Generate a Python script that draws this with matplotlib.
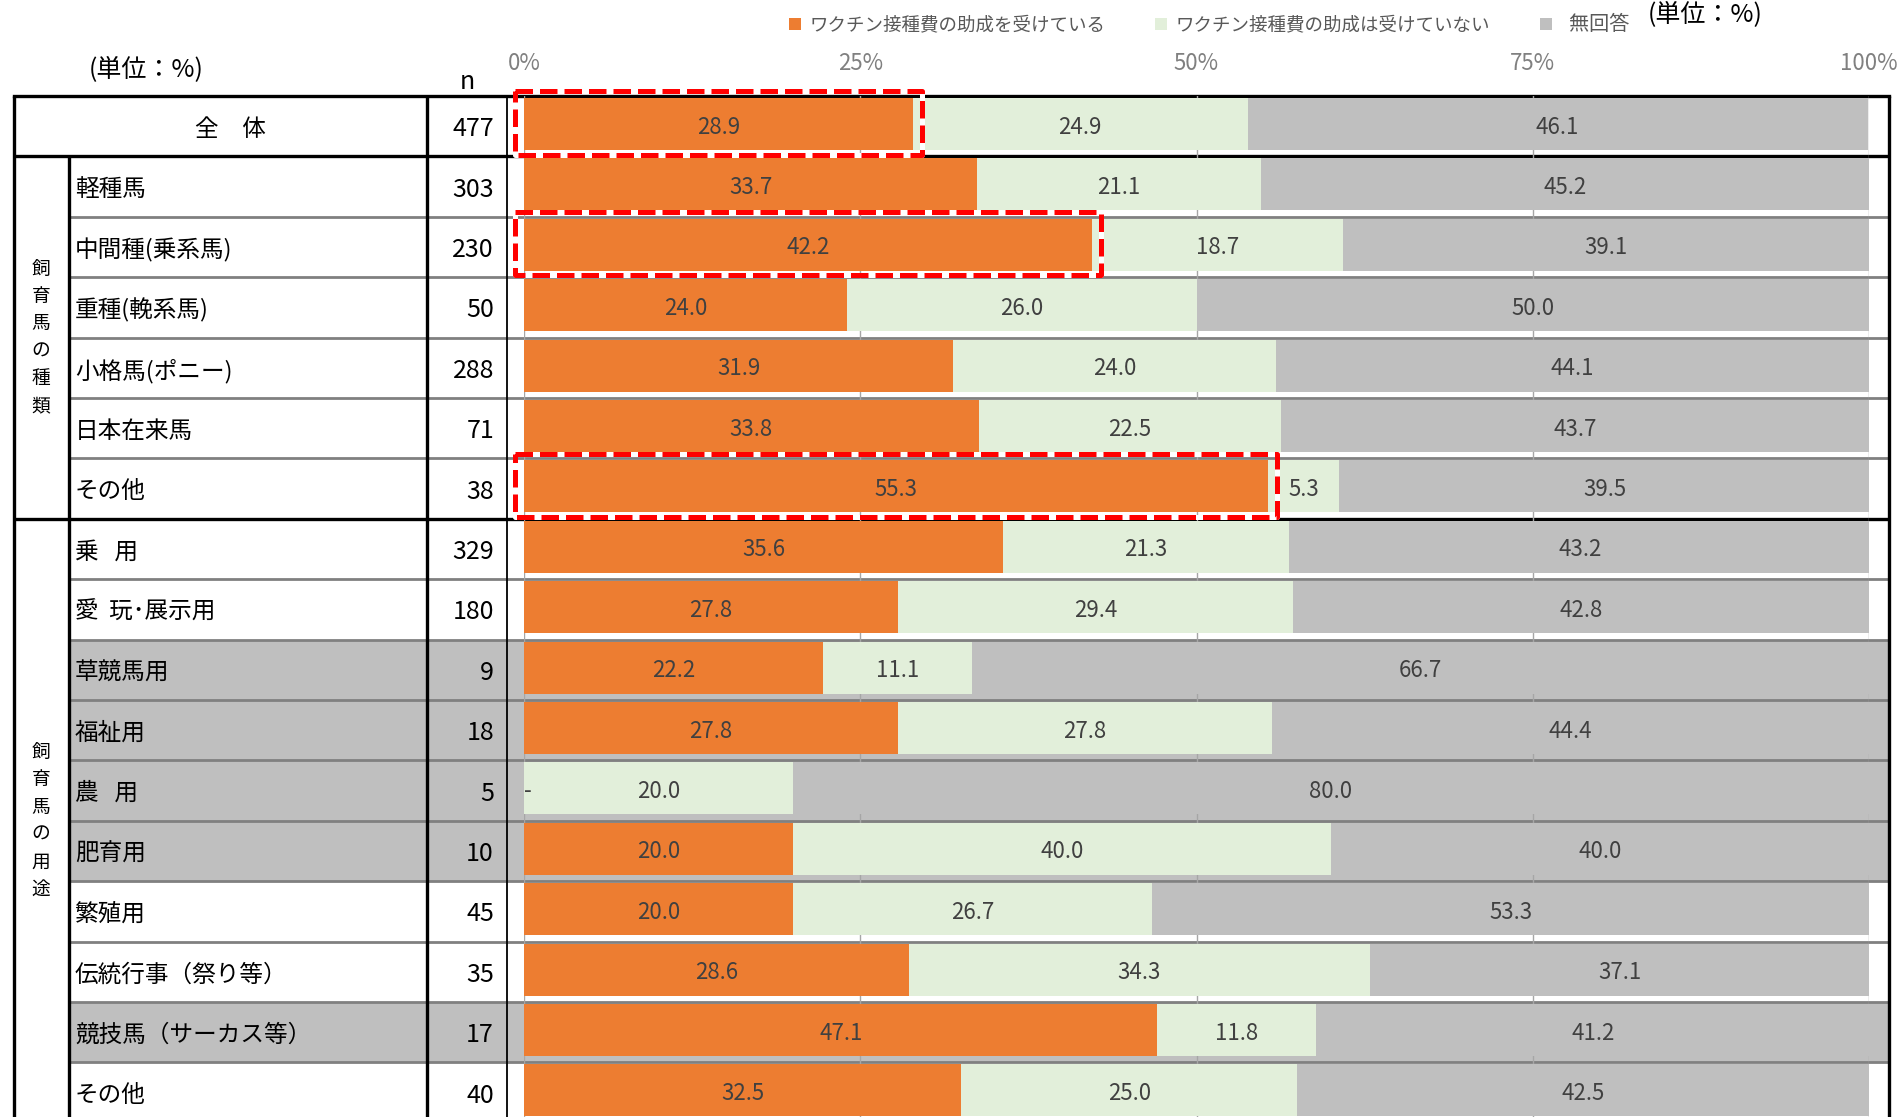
import matplotlib
matplotlib.use('Agg')
import matplotlib.pyplot as plt
from matplotlib.patches import Rectangle, Patch
import numpy as np

plt.rcParams['font.family'] = ['Noto Sans CJK JP', 'DejaVu Sans']

# ---- data -------------------------------------------------------------
categories = ['全　体', '軽種馬', '中間種(乗系馬)', '重種(輓系馬)', '小格馬(ポニー)',
              '日本在来馬', 'その他', '乗   用', '愛  玩･展示用', '草競馬用', '福祉用',
              '農   用', '肥育用', '繁殖用', '伝統行事（祭り等）', '競技馬（サーカス等）', 'その他']
n_values = [477, 303, 230, 50, 288, 71, 38, 329, 180, 9, 18, 5, 10, 45, 35, 17, 40]
subsidized = [28.9, 33.7, 42.2, 24.0, 31.9, 33.8, 55.3, 35.6, 27.8, 22.2, 27.8,
              0.0, 20.0, 20.0, 28.6, 47.1, 32.5]
not_subsidized = [24.9, 21.1, 18.7, 26.0, 24.0, 22.5, 5.3, 21.3, 29.4, 11.1, 27.8,
                  20.0, 40.0, 26.7, 34.3, 11.8, 25.0]
no_answer = [46.1, 45.2, 39.1, 50.0, 44.1, 43.7, 39.5, 43.2, 42.8, 66.7, 44.4,
             80.0, 40.0, 53.3, 37.1, 41.2, 42.5]
series_names = ['ワクチン接種費の助成を受けている', 'ワクチン接種費の助成は受けていない', '  無回答']
series_colors = ['#ED7D31', '#E2EFDA', '#BFBFBF']
group_names = ['飼育馬の種類', '飼育馬の用途']
group_rows = [(1, 6), (7, 16)]
small_sample_rows = [9, 10, 11, 12, 15]
highlighted_rows = [0, 2, 6]
tick_values = [0, 25, 50, 75, 100]
unit_label = '(単位：%)'

# ---- layout (pixels) --------------------------------------------------
W, H = 1903, 1117
TOP, ROW_H = 96, 60.4
N_ROWS = len(categories)
X_LEFT, X_SUB, X_LAB_END, X_N_END = 14, 69, 427, 507
X0, X100, X_RIGHT = 524, 1869, 1889
THICK = 2.4
SEP_GRAY = '#808080'
TEXT_GRAY = '#404040'
TXT_DY = 3  # CJK text sits slightly low in its row

fig = plt.figure(figsize=(W / 100, H / 100), dpi=100)

# table frame drawn in pixel units
tab = fig.add_axes([0, 0, 1, 1])
tab.set_xlim(0, W)
tab.set_ylim(H, 0)
tab.axis('off')

def row_top(i):
    return TOP + i * ROW_H

for i in small_sample_rows:
    tab.add_patch(Rectangle((X_SUB, row_top(i)), X_RIGHT - X_SUB, ROW_H,
                            facecolor='#BFBFBF', edgecolor='none', zorder=0))

group_starts = [g[0] for g in group_rows]
for i in range(1, N_ROWS):
    y = row_top(i)
    if i in group_starts:
        tab.plot([X_LEFT, X_RIGHT], [y, y], color='black', lw=THICK, zorder=3,
                 solid_capstyle='butt')
    else:
        tab.plot([X_SUB, X_RIGHT], [y, y], color=SEP_GRAY, lw=2.0, zorder=2,
                 solid_capstyle='butt')
tab.plot([X_LEFT, X_RIGHT], [TOP, TOP], color='black', lw=THICK, zorder=3)
for x, y0, lw in [(X_LEFT, TOP, THICK), (X_SUB, row_top(1), THICK),
                  (X_LAB_END, TOP, THICK), (X_N_END, TOP, 1.3), (X_RIGHT, TOP, THICK)]:
    tab.plot([x, x], [y0, H + 5], color='black', lw=lw, zorder=3,
             solid_capstyle='butt')

# row labels and sample sizes
for i, (lab, n) in enumerate(zip(categories, n_values)):
    yc = row_top(i) + ROW_H / 2 + TXT_DY
    if i == 0:
        tab.text((X_LEFT + X_LAB_END) / 2 + 10, yc, lab, ha='center', va='center',
                 fontsize=17, color='black')
    else:
        tab.text(X_SUB + 6, yc, lab, ha='left', va='center', fontsize=17,
                 color='black')
    tab.text(X_N_END - 13, yc, str(n), ha='right', va='center', fontsize=18,
             color='black')

# vertical group captions
for name, (r0, r1) in zip(group_names, group_rows):
    yc = (row_top(r0) + row_top(r1 + 1)) / 2
    pitch = 27.4
    for k, ch in enumerate(name):
        tab.text((X_LEFT + X_SUB) / 2 - 0.5, yc + (k - (len(name) - 1) / 2) * pitch, ch,
                 ha='center', va='center', fontsize=13.5, color='black')

tab.text(146, 69, unit_label, ha='center', va='center', fontsize=18, color='black')
tab.text(467, 82, 'n', ha='center', va='center', fontsize=18, color='black')
tab.text(1705, 14, unit_label, ha='center', va='center', fontsize=18, color='black')

# ---- stacked bars -----------------------------------------------------
bar_h_px = N_ROWS * ROW_H
ax = fig.add_axes([X0 / W, (H - (TOP + bar_h_px)) / H, (X100 - X0) / W, bar_h_px / H])
ax.patch.set_visible(False)
ax.set_xlim(0, 100)
ax.set_ylim(N_ROWS, 0)
for s in ax.spines.values():
    s.set_visible(False)

ypos = np.arange(N_ROWS) + 0.464
bar_height = 0.86
label_dy = TXT_DY / ROW_H
left = np.zeros(N_ROWS)
handles = []
for vals, color, name in zip([subsidized, not_subsidized, no_answer], series_colors, series_names):
    vals = np.array(vals)
    ax.barh(ypos, vals, left=left, height=bar_height, color=color, edgecolor='none', zorder=2)
    for y, l, v in zip(ypos, left, vals):
        if v == 0:
            ax.text(l, y + label_dy, '-', ha='left', va='center', fontsize=16,
                    color=TEXT_GRAY, zorder=4)
        else:
            ax.text(l + v / 2, y + label_dy, f'{v:.1f}', ha='center', va='center',
                    fontsize=16, color=TEXT_GRAY, zorder=4)
    left = left + vals
    handles.append(Patch(facecolor=color, edgecolor='none', label=name))

ax.set_xticks(tick_values)
ax.set_xticklabels([f'{t}%' for t in tick_values])
ax.xaxis.tick_top()
ax.tick_params(axis='x', length=0, pad=15, labelsize=16, labelcolor='#808080')
ax.set_yticks([])
ax.grid(axis='x', color='#A6A6A6', lw=1.0, zorder=1)
ax.set_axisbelow(True)

# dashed frames around the highlighted bars
for i in highlighted_rows:
    v = subsidized[i]
    for color, ls in [('white', '-'), ('#FF0000', (0, (3.5, 1.4)))]:
        ax.add_patch(Rectangle((-0.7, i - 0.08), v + 1.4, 1.05, fill=False,
                               edgecolor=color, lw=3.6, linestyle=ls,
                               joinstyle='round', clip_on=False, zorder=5))

leg = fig.legend(handles=handles, loc='center left', bbox_to_anchor=(789 / W, 1 - 25 / H),
                 ncol=3, frameon=False, fontsize=13.3, labelcolor='#595959',
                 handlelength=0.65, handleheight=0.65, handletextpad=0.45,
                 columnspacing=2.7, borderpad=0, borderaxespad=0)
leg.get_texts()[2].set_fontsize(14.5)

fig.savefig('out.png', dpi=100)
